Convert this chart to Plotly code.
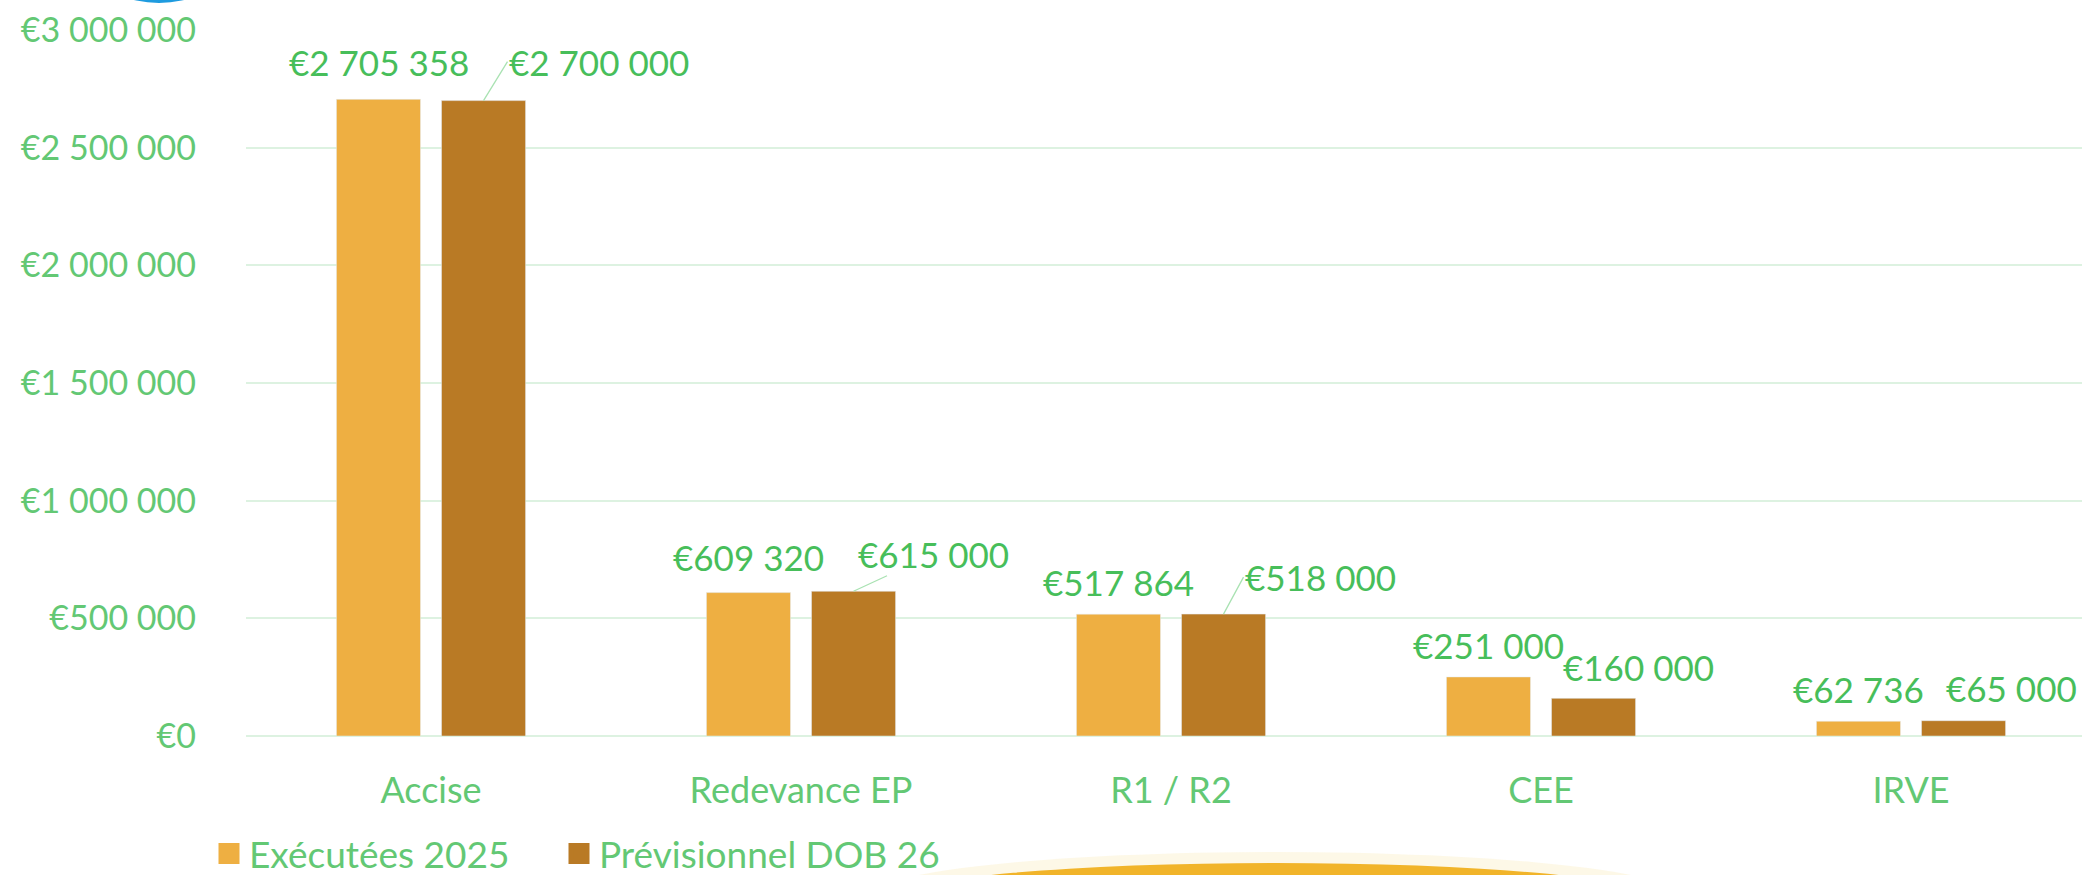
import plotly.graph_objects as go

# ---- data ----
categories = ["Accise", "Redevance EP", "R1 / R2", "CEE", "IRVE"]
executed_2025 = [2705358, 609320, 517864, 251000, 62736]
forecast_dob26 = [2700000, 615000, 518000, 160000, 65000]
series_names = ["Exécutées 2025", "Prévisionnel DOB 26"]
y_ticks = [0, 500000, 1000000, 1500000, 2000000, 2500000, 3000000]

# ---- style ----
C1 = "#EEAF42"
C2 = "#B97A25"
TICK_GREEN = "#63C874"
LABEL_GREEN = "#47BE5A"
GRID = "#DDF2E1"
FONT = "Lato"
LBL_SIZE = 35

W, H = 2082, 875
ML, MR, MT, MB = 246, 0, 30, 139
PW, PH = W - ML - MR, H - MT - MB
CAT_PX = 370.0


def px_x(p):
    return (p - ML) / PW


def px_y(p):
    return (H - MB - p) / PH


def eur(v):
    return "€" + f"{v:,}".replace(",", " ")


fig = go.Figure()
fig.add_trace(go.Bar(x=categories, y=executed_2025, name=series_names[0],
                     marker=dict(color=C1), showlegend=False))
fig.add_trace(go.Bar(x=categories, y=forecast_dob26, name=series_names[1],
                     marker=dict(color=C2), showlegend=False))
# legend entries (one legend per entry so each can be placed)
for nm, col, lg in zip(series_names, [C1, C2], ["legend", "legend2"]):
    fig.add_trace(go.Scatter(x=[None], y=[None], mode="markers", name=nm,
                             legend=lg,
                             marker=dict(symbol="square", size=16, color=col,
                                         line=dict(color=col, width=6))))

half = 52.5  # px offset of bar centres from category centre
annotations = []
label1_lift = [37, 36, 32, 32, 32]
for c, v, lift in zip(categories, executed_2025, label1_lift):
    annotations.append(dict(x=c, y=v, xref="x", yref="y", text=eur(v),
                            showarrow=False, xshift=-half, yshift=lift,
                            yanchor="middle",
                            font=dict(family=FONT, size=LBL_SIZE, color=LABEL_GREEN)))

# (dx, dy, mode): "left" = leader line to left edge, "center" = leader to box, None = no leader
label2_place = [(24, -39, "left"), (80, -37, "center"), (20, -37, "left"),
                (45, -31, None), (48, -33, None)]
for c, v, (dx, dy, mode) in zip(categories, forecast_dob26, label2_place):
    f = dict(family=FONT, size=LBL_SIZE, color=LABEL_GREEN)
    if mode is None:
        annotations.append(dict(x=c, y=v, xref="x", yref="y", text=eur(v),
                                showarrow=False, xshift=half + dx, yshift=-dy,
                                yanchor="middle", font=f))
    else:
        annotations.append(dict(x=c, y=v, xref="x", yref="y", text=eur(v),
                                showarrow=True, arrowhead=0, arrowwidth=1.3,
                                arrowcolor="#A9E2B2", ax=dx, ay=dy, xshift=half,
                                standoff=0, borderpad=0,
                                xanchor=("left" if mode == "left" else "center"),
                                yanchor="middle", font=f))

shapes = [
    # faint glow above the golden arc
    dict(type="circle", xref="paper", yref="paper", layer="above",
         x0=px_x(870), x1=px_x(1680), y0=px_y(852), y1=px_y(940),
         fillcolor="rgba(246,214,120,0.18)", line=dict(width=0)),
    # decorative golden arc at bottom
    dict(type="circle", xref="paper", yref="paper", layer="above",
         x0=px_x(905), x1=px_x(1645), y0=px_y(863), y1=px_y(930),
         fillcolor="#F1B42A", line=dict(width=0)),
    # decorative blue arc at top-left
    dict(type="circle", xref="paper", yref="paper", layer="above",
         x0=px_x(100), x1=px_x(218), y0=px_y(3), y1=px_y(-60),
         fillcolor="#1E9BDF", line=dict(width=0)),
]

legend_common = dict(orientation="h", xref="container", yref="container",
                     y=(H - 854) / H, xanchor="left", yanchor="middle",
                     font=dict(family=FONT, size=37, color=TICK_GREEN),
                     itemwidth=30, bgcolor="rgba(0,0,0,0)")

fig.update_layout(
    width=W, height=H,
    margin=dict(l=ML, r=MR, t=MT, b=MB, pad=0, autoexpand=False),
    paper_bgcolor="white", plot_bgcolor="white",
    barmode="group", bargap=0.432, bargroupgap=0.2,
    font=dict(family=FONT, color=TICK_GREEN),
    xaxis=dict(range=[-0.5, -0.5 + PW / CAT_PX], showgrid=False, zeroline=False,
               showline=False, ticks="", ticklabelstandoff=30, automargin=False,
               tickfont=dict(family=FONT, size=36, color=TICK_GREEN)),
    yaxis=dict(range=[0, 3000000], tickvals=y_ticks,
               ticktext=[eur(t) for t in y_ticks],
               showgrid=True, gridcolor=GRID, gridwidth=2,
               zeroline=True, zerolinecolor=GRID, zerolinewidth=2,
               showline=False, ticks="", ticklabelstandoff=49, automargin=False,
               tickfont=dict(family=FONT, size=34, color=TICK_GREEN)),
    legend=dict(x=209 / W, **legend_common),
    legend2=dict(x=559 / W, **legend_common),
    annotations=annotations,
    shapes=shapes,
)

fig.write_html(
    "out.html",
    config={"displayModeBar": False},
    post_script="document.body.style.margin='0';document.body.style.padding='0';"
                "document.body.style.overflow='hidden';",
)
